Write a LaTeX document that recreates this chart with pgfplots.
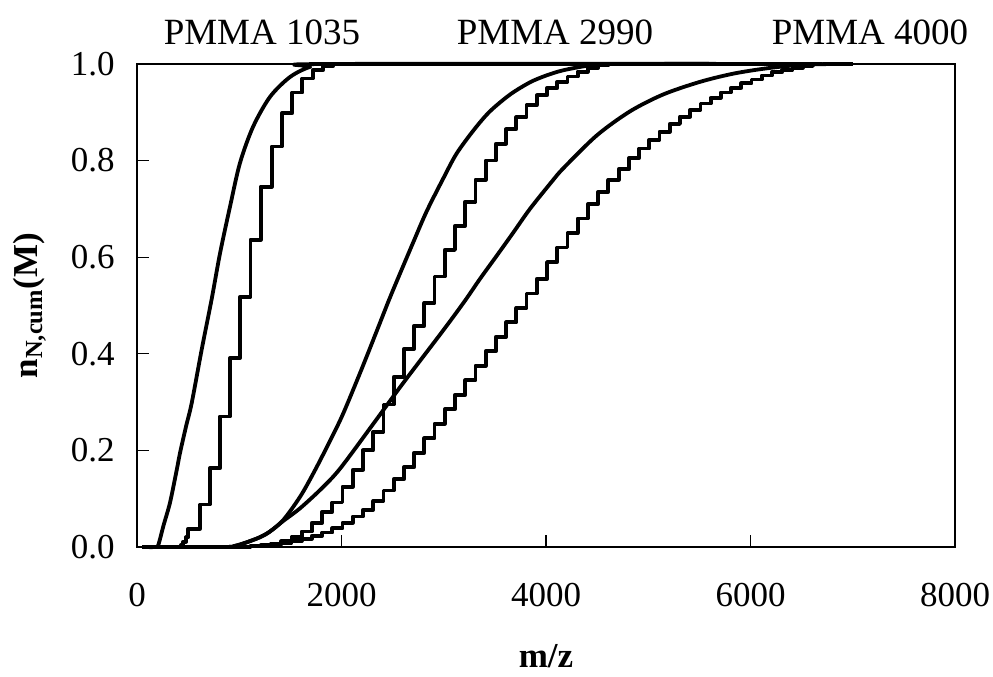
\documentclass[border=0pt]{standalone}
\usepackage{fontspec}
\setmainfont{Liberation Serif}
\usepackage{pgfplots}
\pgfplotsset{compat=1.18}
\usetikzlibrary{calc}

\begin{document}
\begin{tikzpicture}
\begin{axis}[
    name=ax,
    width=409pt, height=241.5pt, scale only axis,
    xmin=0, xmax=8000, ymin=0, ymax=1,
    xtick={0,2000,4000,6000,8000},
    ytick={0,0.2,0.4,0.6,0.8,1},
    xtick pos=lower, ytick pos=left,
    tick align=inside, major tick length=6pt,
    /pgf/number format/assume math mode=true,
    xticklabel style={/pgf/number format/1000 sep={}},
    yticklabel style={/pgf/number format/fixed, /pgf/number format/fixed zerofill,
        /pgf/number format/precision=1},
    tick label style={font=\fontsize{17.5}{20}\selectfont},
    xticklabel shift=14.7pt, yticklabel shift=7.7pt,
    axis line style={line width=0.6pt},
    every tick/.style={black, line width=0.6pt},
    clip=false,
    every axis plot/.append style={black, line width=1.9pt, line join=round},
]
% PMMA 1035 - calculated
\addplot[smooth] coordinates {
    (50,0) (180,0) (208,0.004) (260,0.045) (323,0.092) (388,0.159) (421,0.195)
    (480,0.25) (535,0.298) (632,0.408) (730,0.513) (812,0.608) (910,0.705)
    (1007,0.795) (1135,0.87) (1301,0.932) (1496,0.973) (1692,0.994) (1888,1.0)
    (6700,1.0)
};
% PMMA 1035 - measured
\addplot[const plot] coordinates {
    (50,0) (404,0) (430,0.004) (453,0.011) (480,0.02) (502,0.038) (616,0.088)
    (712,0.163) (810,0.27) (910,0.391) (1007,0.518) (1110,0.636) (1210,0.746)
    (1318,0.829) (1416,0.898) (1519,0.941) (1617,0.970) (1719,0.988)
    (1822,0.996) (1920,1.0) (6700,1.0)
};
% PMMA 2990 - calculated
\addplot[smooth] coordinates {
    (50,0) (850,0) (950,0.002) (1050,0.008) (1200,0.02) (1300,0.032)
    (1431,0.056) (1598,0.105) (1741,0.159) (1900,0.225) (2018,0.277)
    (2200,0.37) (2350,0.45) (2458,0.508) (2540,0.55) (2700,0.63) (2833,0.695)
    (3000,0.765) (3127,0.815) (3300,0.865) (3452,0.902) (3650,0.937)
    (3843,0.962) (4000,0.976) (4169,0.987) (4430,0.997) (4700,1.0) (6700,1.0)
};
% PMMA 2990 - measured
\addplot[const plot] coordinates {
    (50,0) (1110,0.002) (1210,0.004) (1310,0.007) (1410,0.012) (1510,0.02)
    (1610,0.032) (1710,0.05) (1810,0.073) (1910,0.092) (2010,0.125)
    (2110,0.16) (2210,0.2) (2310,0.238) (2410,0.295) (2510,0.352)
    (2610,0.41) (2710,0.458) (2810,0.505) (2910,0.56) (3010,0.615)
    (3110,0.665) (3210,0.715) (3310,0.76) (3410,0.80) (3510,0.835)
    (3610,0.865) (3710,0.89) (3810,0.915) (3910,0.935) (4010,0.95)
    (4110,0.963) (4210,0.974) (4310,0.984) (4410,0.992) (4510,0.997)
    (4610,1.0) (6700,1.0)
};
% PMMA 4000 - calculated
\addplot[smooth] coordinates {
    (50,0) (850,0) (950,0.002) (1050,0.008) (1200,0.02) (1300,0.032)
    (1431,0.054) (1594,0.08) (1800,0.12) (1985,0.162) (2311,0.255) (2605,0.34)
    (3000,0.45) (3208,0.51) (3354,0.555) (3518,0.603) (3680,0.651)
    (3843,0.7) (4055,0.756) (4169,0.784) (4496,0.852) (4822,0.902)
    (5147,0.937) (5506,0.963) (5832,0.98) (6158,0.991) (6484,0.998)
    (6800,1.0) (7000,1.0)
};
% PMMA 4000 - measured
\addplot[const plot] coordinates {
    (50,0) (1010,0.001) (1110,0.002) (1210,0.003) (1310,0.005) (1410,0.008)
    (1510,0.012) (1610,0.017) (1710,0.023) (1810,0.03) (1910,0.039)
    (2010,0.05) (2110,0.063) (2210,0.077) (2310,0.095) (2410,0.117)
    (2510,0.14) (2610,0.165) (2710,0.195) (2810,0.225) (2910,0.255)
    (3010,0.285) (3110,0.315) (3210,0.345) (3310,0.375) (3410,0.405)
    (3510,0.435) (3610,0.465) (3710,0.495) (3810,0.525) (3910,0.555)
    (4010,0.59) (4110,0.62) (4210,0.65) (4310,0.68) (4410,0.71)
    (4510,0.735) (4610,0.76) (4710,0.782) (4810,0.805) (4910,0.825)
    (5010,0.843) (5110,0.86) (5210,0.876) (5310,0.891) (5410,0.905)
    (5510,0.918) (5610,0.93) (5710,0.941) (5810,0.951) (5910,0.96)
    (6010,0.968) (6110,0.976) (6210,0.983) (6310,0.988) (6410,0.992)
    (6510,0.996) (6610,0.999) (6710,1.0) (7000,1.0)
};
\node[anchor=base, yshift=9.5pt, font=\fontsize{18.5}{20}\selectfont] at (axis cs:1222,1) {PMMA 1035};
\node[anchor=base, yshift=9.5pt, font=\fontsize{18.5}{20}\selectfont] at (axis cs:4088,1) {PMMA 2990};
\node[anchor=base, yshift=9.5pt, font=\fontsize{18.5}{20}\selectfont] at (axis cs:7169,1) {PMMA 4000};
\end{axis}
\node[anchor=base, font=\fontsize{17.5}{20}\selectfont\bfseries] at ($(ax.south)+(0,-60.5pt)$) {m/z};
\node[anchor=base, rotate=90, font=\fontsize{17.5}{20}\selectfont\bfseries] at ($(ax.west)+(-50pt,0)$) {n\textsubscript{N,cum}(M)};
\pgfresetboundingbox
\path[use as bounding box] ($(ax.south west)+(-68.5pt,-65pt)$) rectangle ($(ax.north east)+(19pt,32pt)$);
\end{tikzpicture}
\end{document}
